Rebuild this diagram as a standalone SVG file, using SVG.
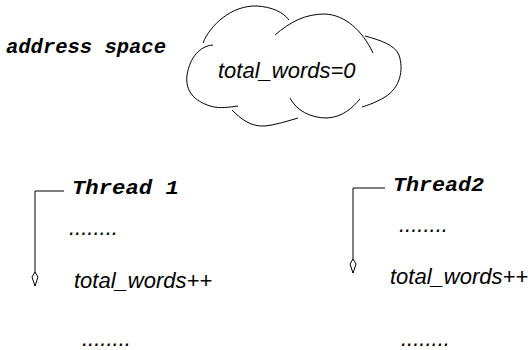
<svg xmlns="http://www.w3.org/2000/svg" width="532" height="350" viewBox="0 0 532 350">
  <style>
    .mono { font-family: "Liberation Mono", "Courier New", monospace; font-weight: bold; font-style: italic; font-size: 20.5px; fill: #000; }
    .sans { font-family: "Liberation Sans", Arial, sans-serif; font-style: italic; font-size: 22px; fill: #000; }
    .cloud { fill: none; stroke: #000; stroke-width: 1; }
    .conn { fill: none; stroke: #000; stroke-width: 1; }
  </style>
  <defs>
    <marker id="head" markerWidth="20" markerHeight="10" refX="0" refY="0" viewBox="-15 -5 16 10" orient="auto" markerUnits="userSpaceOnUse">
      <path d="M-14,0 L-9,-3 L0,0 L-9,3 Z" fill="#fff" stroke="#000" stroke-width="1"/>
    </marker>
  </defs>
  <rect width="532" height="350" fill="#fff"/>

  <g id="address-space">
    <text class="mono" x="6" y="53" textLength="160" lengthAdjust="spacingAndGlyphs">address space</text>
  </g>

  <g id="cloud">
    <path class="cloud" d="M203,43 C210,25 232,5 257,6 C272,7 283,12 289,20"/>
    <path class="cloud" d="M275,35 C290,22 305,14 325,14 C345,15 362,30 373,53"/>
    <path class="cloud" d="M365,36 C380,40 395,45 399,55 C404,70 400,88 385,97 C375,103 368,105 362,107"/>
    <path class="cloud" d="M290,98 C296,110 310,118 327,118 C343,117 352,108 360,99"/>
    <path class="cloud" d="M232,110 C240,118 250,127 265,126 C275,125 288,121 298,118"/>
    <path class="cloud" d="M213,45 C200,46 190,57 187,75 C185,92 195,101 210,106 C220,109 230,107 238,106"/>
    <text class="sans" x="218" y="78">total_words=0</text>
  </g>

  <g id="thread1">
    <text class="mono" x="72" y="194" textLength="107" lengthAdjust="spacingAndGlyphs">Thread 1</text>
    <text class="sans" x="69" y="235">........</text>
    <text class="sans" x="74" y="288">total_words++</text>
    <text class="sans" x="82" y="346">........</text>
  </g>

  <g id="thread2">
    <text class="mono" x="393" y="191" textLength="91" lengthAdjust="spacingAndGlyphs">Thread2</text>
    <text class="sans" x="399" y="232">........</text>
    <text class="sans" x="390" y="284">total_words++</text>
    <text class="sans" x="401" y="346">........</text>
  </g>

  <g id="connectors">
    <path class="conn" d="M64,191 H35 V286" marker-end="url(#head)"/>
    <path class="conn" d="M385,188 H353 V273" marker-end="url(#head)"/>
  </g>
</svg>
